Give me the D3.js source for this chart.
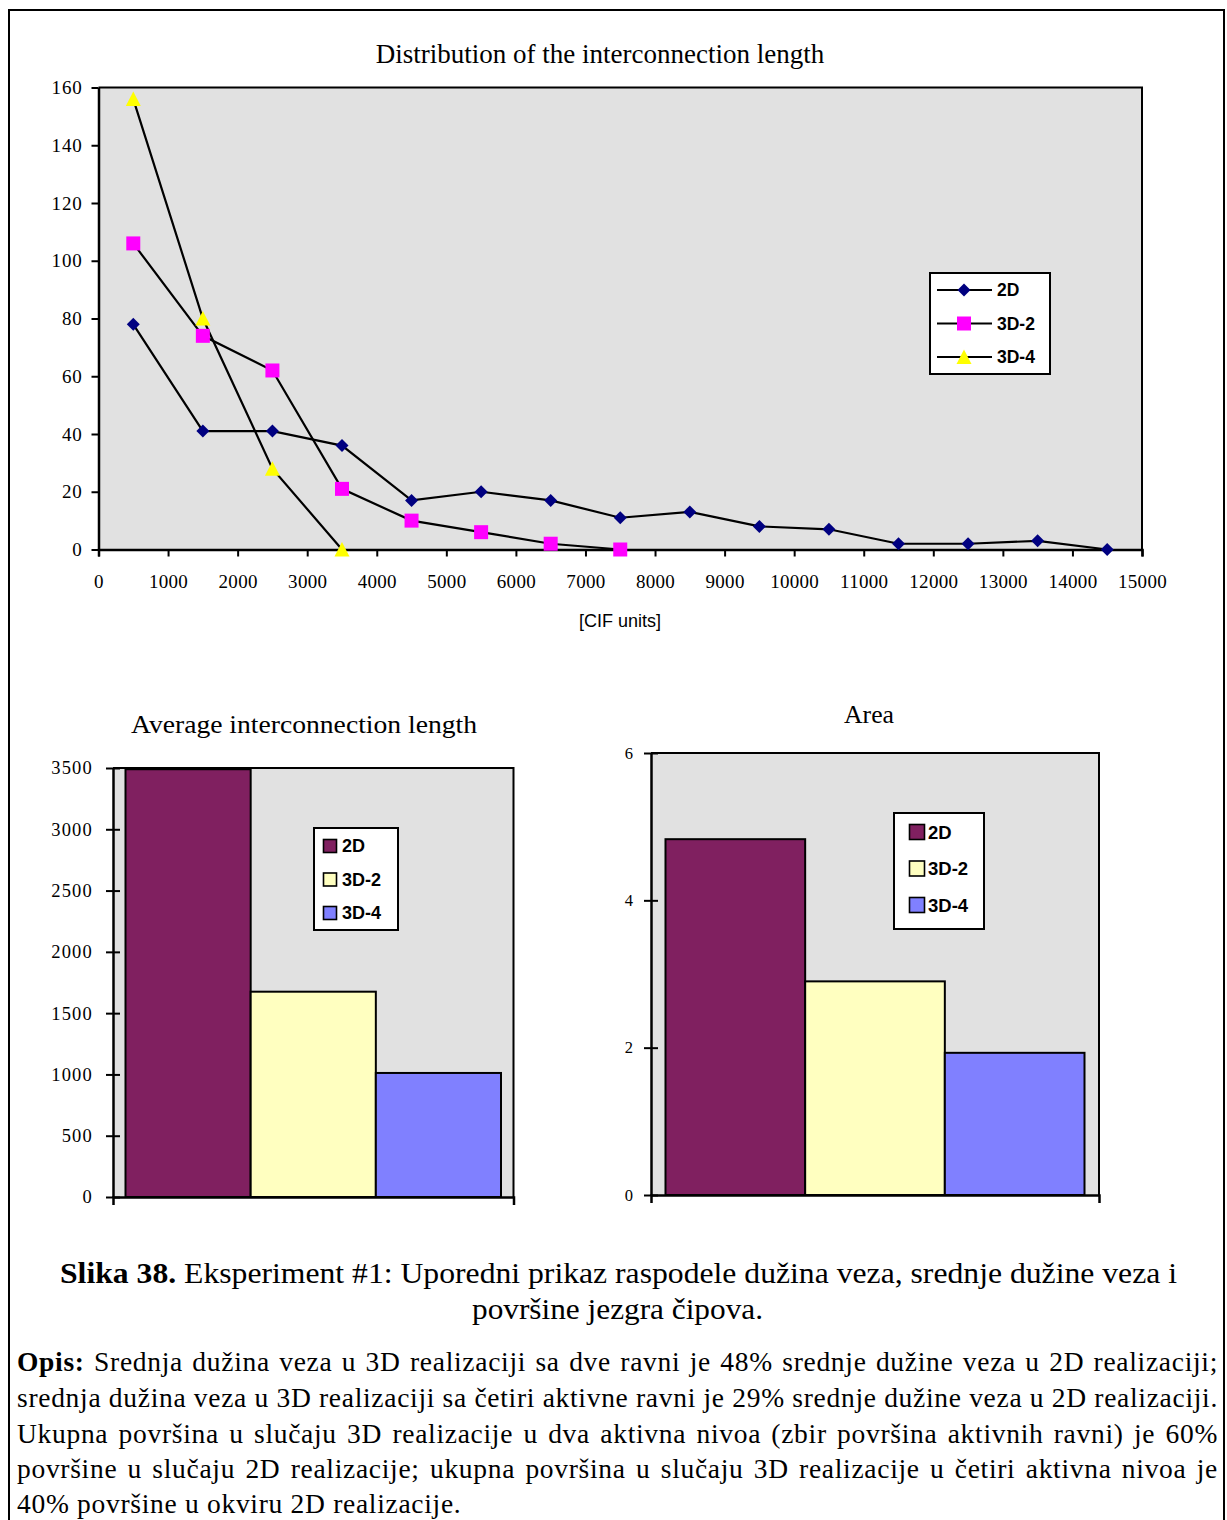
<!DOCTYPE html>
<html><head><meta charset="utf-8">
<script src="https://cdn.jsdelivr.net/npm/d3@7"></script>
<style>body{margin:0;background:#fff}svg{display:block}</style>
</head><body>
<svg id="c" width="1227" height="1520"></svg>
<script>
// ---------- DATA ----------
const lineX = [500,1500,2500,3500,4500,5500,6500,7500,8500,9500,10500,11500,12500,13500,14500];
const series2D  = [78,41,41,36,17,20,17,11,13,8,7,2,2,3,0];
const series3D2 = [106,74,62,21,10,6,2,0];
const series3D4 = [156,80,28,0];
const lineSeriesNames = ["2D","3D-2","3D-4"];
const xTicksTop = [0,1000,2000,3000,4000,5000,6000,7000,8000,9000,10000,11000,12000,13000,14000,15000];
const yTicksTop = [0,20,40,60,80,100,120,140,160];

const barSeries = ["2D","3D-2","3D-4"];
const barCategory = [""];
const avgLength = [3490,1675,1012];
const avgTicks = [0,500,1000,1500,2000,2500,3000,3500];
const areaValues = [4.83,2.9,1.93];
const areaTicks = [0,2,4,6];

const titleTop = "Distribution of the interconnection length";
const titleAvg = "Average interconnection length";
const titleArea = "Area";
const xAxisLabel = "[CIF units]";
const captionBold = "Slika 38.";
const captionLine1 = " Eksperiment #1: Uporedni prikaz raspodele dužina veza, srednje dužine veza i";
const captionLine2 = "površine jezgra čipova.";
const opisBold = "Opis:";
const opisLines = [
  " Srednja dužina veza u 3D realizaciji sa dve ravni je 48% srednje dužine veza u 2D realizaciji;",
  "srednja dužina veza u 3D realizaciji sa četiri aktivne ravni je 29% srednje dužine veza u 2D realizaciji.",
  "Ukupna površina u slučaju 3D realizacije u dva aktivna nivoa (zbir površina aktivnih ravni) je 60%",
  "površine u slučaju 2D realizacije; ukupna površina u slučaju 3D realizacije u četiri aktivna nivoa je",
  "40% površine u okviru 2D realizacije."
];

// ---------- STYLE ----------
const SERIF = "'Liberation Serif','Times New Roman',serif";
const SANS = "'Liberation Sans',Arial,sans-serif";
const PLOT_BG = "#e1e1e1";
const lineColors = {"2D":"#000080","3D-2":"#ff00ff","3D-4":"#ffff00"};
const barColors = {"2D":"#802060","3D-2":"#ffffc0","3D-4":"#8080ff"};
const intFmt = d3.format("d");

const svg = d3.select("#c");

// outer frame
svg.append("rect").attr("x",9).attr("y",10).attr("width",1215).attr("height",1540)
  .attr("fill","none").attr("stroke","#000").attr("stroke-width",2);

function styleAxis(g, fontSize, letterSp){
  g.attr("font-size",null).attr("font-family",null);
  g.select(".domain").attr("stroke","#000").attr("stroke-width",2.5);
  g.selectAll(".tick line").attr("stroke","#000").attr("stroke-width",2);
  g.selectAll(".tick text").attr("fill","#000").attr("font-family",SERIF)
    .attr("font-size",fontSize).attr("letter-spacing",letterSp||0);
}

// marker shapes
const markerPath = {
  "2D": "M0,-6.5L6.5,0L0,6.5L-6.5,0Z",
  "3D-2": "M-7,-7H7V7H-7Z",
  "3D-4": "M0,-7.5L7.5,7L-7.5,7Z"
};

// ---------- TOP LINE CHART ----------
{
  const P = {l:98.5, r:1142, t:87.5, b:549.5};
  const x = d3.scaleLinear().domain([0,15000]).range([P.l,P.r]);
  const y = d3.scaleLinear().domain([0,160]).range([P.b,P.t]);
  const g = svg.append("g");
  g.append("rect").attr("x",P.l).attr("y",P.t).attr("width",P.r-P.l).attr("height",P.b-P.t).attr("fill",PLOT_BG);
  g.append("path").attr("d",`M${P.l},${P.t}H${P.r}V${P.b}`).attr("fill","none").attr("stroke","#000").attr("stroke-width",2);

  const ax = g.append("g").attr("transform",`translate(${P.l},0)`)
    .call(d3.axisLeft(y).tickValues(yTicksTop).tickFormat(intFmt).tickSizeInner(7).tickSizeOuter(0).tickPadding(9));
  styleAxis(ax,19,0.8);
  const bx = g.append("g").attr("transform",`translate(0,${P.b})`)
    .call(d3.axisBottom(x).tickValues(xTicksTop).tickFormat(intFmt).tickSizeInner(7).tickSizeOuter(7).tickPadding(18));
  styleAxis(bx,19,0.3);

  const seriesData = [series2D, series3D2, series3D4].map((vals,si)=>({
    name: lineSeriesNames[si],
    pts: vals.map((v,i)=>[lineX[i],v])
  }));
  const line = d3.line().x(d=>x(d[0])).y(d=>y(d[1]));
  g.selectAll("path.ser").data(seriesData).join("path").attr("class","ser")
    .attr("d",d=>line(d.pts)).attr("fill","none").attr("stroke","#000").attr("stroke-width",2.2);
  seriesData.forEach(s=>{
    g.selectAll(null).data(s.pts).join("path")
      .attr("transform",d=>`translate(${x(d[0])},${y(d[1])})`)
      .attr("d",markerPath[s.name]).attr("fill",lineColors[s.name]);
  });

  g.append("text").attr("x",600).attr("y",63).attr("text-anchor","middle")
    .attr("font-family",SERIF).attr("font-size",27).text(titleTop);
  g.append("text").attr("x",620).attr("y",627).attr("text-anchor","middle")
    .attr("font-family",SANS).attr("font-size",18).text(xAxisLabel);

  // legend
  const L = g.append("g");
  L.append("rect").attr("x",930).attr("y",273).attr("width",120).attr("height",101)
    .attr("fill","#fff").attr("stroke","#000").attr("stroke-width",2);
  const ly = d3.scalePoint().domain(lineSeriesNames).range([290,357]);
  lineSeriesNames.forEach(n=>{
    L.append("line").attr("x1",937).attr("x2",992).attr("y1",ly(n)).attr("y2",ly(n))
      .attr("stroke","#000").attr("stroke-width",2.2);
    L.append("path").attr("transform",`translate(964,${ly(n)})`).attr("d",markerPath[n]).attr("fill",lineColors[n]);
    L.append("text").attr("x",997).attr("y",ly(n)).attr("dy","0.36em")
      .attr("font-family",SANS).attr("font-weight","bold").attr("font-size",17.5).text(n);
  });
}

// ---------- BAR CHARTS ----------
function barChart(o){
  const P = o.P;
  const g = svg.append("g");
  const y = d3.scaleLinear().domain(o.domain).range([P.b,P.t]);
  const x0 = d3.scaleBand().domain(barCategory).range([P.l,P.r]).paddingInner(0).paddingOuter(o.padOuter);
  const x1 = d3.scaleBand().domain(barSeries).range([0,x0.bandwidth()]);
  g.append("rect").attr("x",P.l).attr("y",P.t).attr("width",P.r-P.l).attr("height",P.b-P.t).attr("fill",PLOT_BG);
  g.append("path").attr("d",`M${P.l},${P.t}H${P.r}V${P.b}`).attr("fill","none").attr("stroke","#000").attr("stroke-width",2);

  g.selectAll("rect.bar").data(o.values.map((v,i)=>({s:barSeries[i],v})))
    .join("rect").attr("class","bar")
    .attr("x",d=>x0("")+x1(d.s)).attr("width",x1.bandwidth())
    .attr("y",d=>y(d.v)).attr("height",d=>y(0)-y(d.v))
    .attr("fill",d=>barColors[d.s]).attr("stroke","#000").attr("stroke-width",2);

  const ax = g.append("g").attr("transform",`translate(${P.l},0)`)
    .call(d3.axisLeft(y).tickValues(o.ticks).tickFormat(intFmt).tickSizeInner(7).tickSizeOuter(0).tickPadding(o.tickPad));
  ax.selectAll(".tick line").attr("x1",7);
  styleAxis(ax,o.tickFont,o.tickLS);
  const bx = g.append("g").attr("transform",`translate(0,${P.b})`)
    .call(d3.axisBottom(x0).tickSizeInner(0).tickSizeOuter(8).tickFormat(""));
  styleAxis(bx,12,0);

  g.append("text").attr("x",o.titleX).attr("y",o.titleY).attr("text-anchor","middle")
    .attr("font-family",SERIF).attr("font-size",25)
    .attr("textLength",o.titleW).attr("lengthAdjust","spacingAndGlyphs").text(o.title);

  const Lg = o.legend;
  const L = g.append("g");
  L.append("rect").attr("x",Lg.x).attr("y",Lg.y).attr("width",Lg.w).attr("height",Lg.h)
    .attr("fill","#fff").attr("stroke","#000").attr("stroke-width",2);
  const ly = d3.scalePoint().domain(barSeries).range(Lg.rows);
  barSeries.forEach(n=>{
    L.append("rect").attr("x",Lg.sx).attr("y",ly(n)-Lg.sq/2).attr("width",Lg.sq).attr("height",Lg.sq)
      .attr("fill",barColors[n]).attr("stroke","#000").attr("stroke-width",1.6);
    L.append("text").attr("x",Lg.tx).attr("y",ly(n)).attr("dy","0.36em")
      .attr("font-family",SANS).attr("font-weight","bold").attr("font-size",Lg.fs).text(n);
  });
}

barChart({
  P:{l:113,r:513.5,t:768,b:1197}, domain:[0,3500], ticks:avgTicks, values:avgLength,
  padOuter:0.0333, tickPad:13, tickFont:18.5, tickLS:1.2,
  title:titleAvg, titleX:304, titleY:733, titleW:346,
  legend:{x:314,y:828,w:84,h:102,rows:[846,913],sx:323.5,sq:13,tx:342,fs:18}
});
barChart({
  P:{l:651,r:1099,t:753,b:1195}, domain:[0,6], ticks:areaTicks, values:areaValues,
  padOuter:0.0346, tickPad:11, tickFont:16.5, tickLS:0,
  title:titleArea, titleX:869, titleY:723, titleW:50,
  legend:{x:894,y:813,w:90,h:116,rows:[832,905],sx:909.5,sq:15,tx:928,fs:18.5}
});

// ---------- CAPTION ----------
{
  const t1 = svg.append("text").attr("x",618.5).attr("y",1283).attr("text-anchor","middle")
    .attr("font-family",SERIF).attr("font-size",30)
    .attr("textLength",1117).attr("lengthAdjust","spacingAndGlyphs");
  t1.append("tspan").attr("font-weight","bold").text(captionBold);
  t1.append("tspan").text(captionLine1);
  svg.append("text").attr("x",617.5).attr("y",1319).attr("text-anchor","middle")
    .attr("font-family",SERIF).attr("font-size",30)
    .attr("textLength",291).attr("lengthAdjust","spacingAndGlyphs").text(captionLine2);
}

// ---------- DESCRIPTION (justified) ----------
{
  const baselines = [1371,1407,1443,1478,1513];
  const left = 17, right = 1218;
  opisLines.forEach((ln,i)=>{
    const t = svg.append("text").attr("x",left).attr("y",baselines[i])
      .attr("font-family",SERIF).attr("font-size",27.5).attr("letter-spacing",0.7);
    if(i===0) t.append("tspan").attr("font-weight","bold").text(opisBold);
    t.append("tspan").text(ln);
    if(i < opisLines.length-1){
      const full = (i===0? opisBold:"") + ln;
      const spaces = (full.match(/ /g)||[]).length;
      const w = t.node().getComputedTextLength();
      t.attr("word-spacing", (right-left-w)/spaces);
    }
  });
}
</script>
</body></html>
